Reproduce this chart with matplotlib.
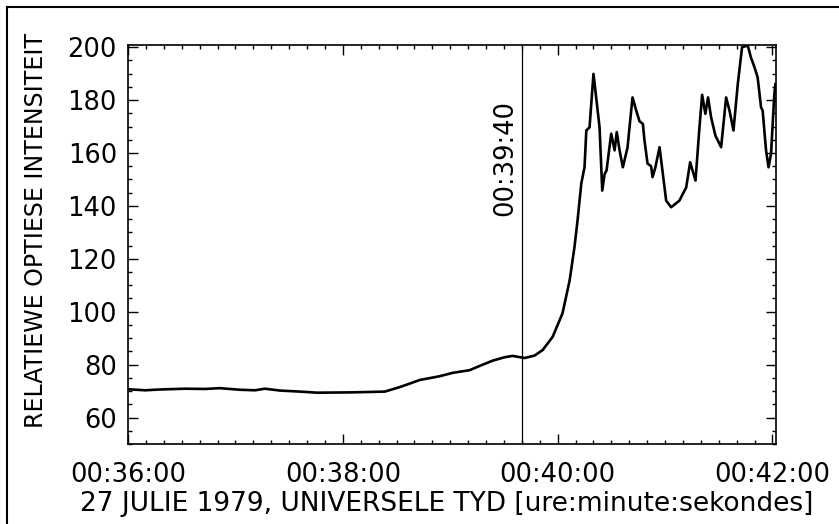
import matplotlib
matplotlib.use("Agg")
import matplotlib.pyplot as plt
from matplotlib.ticker import MultipleLocator, FuncFormatter
from matplotlib.lines import Line2D

# -----------------------------
# data: seconds after 00:36:00 UT, relative optical intensity
# -----------------------------
t_sec = [0, 9.5, 17.9, 31.8, 43, 51.3, 62.5, 70.9, 76.5, 84.8, 96, 105.5,
         107, 124, 143.4, 151.8, 163, 174, 181.4, 190.8, 196.4, 203.7, 210.4,
         214.8, 221.5, 227, 231.6, 237.2, 242.7, 246.7, 249.4, 251.1, 253.2,
         255, 256, 257.8, 260, 261.5, 263.4, 264.9, 266.2, 267.3, 269.9, 271.8,
         273, 274.6, 276.4, 279, 281.8, 283.9, 285.7, 287.6, 288.5, 290.2,
         292.2, 293, 294.6, 296.9, 300.6, 303.4, 308, 311.8, 314, 317, 319.2,
         320.7, 322.5, 324, 325.7, 328.1, 331.3, 334.1, 336, 338.2, 340.6, 343,
         346.2, 348, 349.9, 351.7, 353.6, 354.5, 356.4, 357.8, 359.2, 361, 361.6]
intensity = [70.7, 70.3, 70.6, 70.9, 70.8, 71.1, 70.5, 70.3, 70.9, 70.2, 69.8, 69.4,
             69.4, 69.5, 69.8, 71.5, 74.2, 75.6, 76.9, 77.9, 79.5, 81.5, 82.8,
             83.3, 82.5, 83.4, 85.5, 90.5, 99.4, 111.9, 124.5, 134.5, 148.5,
             154.6, 168.5, 169.7, 189.9, 181, 169.7, 145.8, 152, 153.4, 167.3, 161,
             167.9, 160.9, 154.6, 162, 181, 176, 172, 171, 164.7, 156,
             155, 150.9, 154.6, 162.2, 142, 139.5, 142, 147, 156.5, 149.6, 169.7,
             182, 174.8, 181, 173.5, 166.6, 162.2, 181, 176, 168.5, 186, 200,
             200.6, 196, 192.5, 188.6, 177.3, 176, 161, 154.6, 159.8, 182, 186]

marker_t = 220  # 00:39:40
marker_label = "00:39:40"
y_ticks = [60, 80, 100, 120, 140, 160, 180, 200]

START_MIN = 36


def fmt_time(x, pos):
    total = int(round(x)) + START_MIN * 60
    m, s = divmod(total, 60)
    return f"00:{m:02d}:{s:02d}"


fig = plt.figure(figsize=(8.39, 5.24), dpi=100)
ax = fig.add_axes([0.1526, 0.1527, 0.925 - 0.1526, 0.914 - 0.1527])

ax.plot(t_sec, intensity, color="black", linewidth=1.9)
ax.axvline(marker_t, color="black", linewidth=0.9)
ax.text(marker_t - 2, 158, marker_label, rotation=90, ha="right", va="center",
        fontsize=18.5, family="DejaVu Sans")

ax.set_xlim(0, 362)
ax.set_ylim(50, 200.8)

ax.xaxis.set_major_locator(MultipleLocator(120))
ax.xaxis.set_minor_locator(MultipleLocator(10))
ax.xaxis.set_major_formatter(FuncFormatter(fmt_time))
ax.set_yticks(y_ticks)
ax.yaxis.set_minor_locator(MultipleLocator(5))

ax.tick_params(which="both", direction="in", top=True, right=True,
               labelsize=18.5, width=1.0)
ax.tick_params(which="major", length=7, pad=8)
ax.tick_params(which="minor", length=3)
ax.tick_params(axis="x", which="major", pad=13)
for sp in ax.spines.values():
    sp.set_linewidth(1.2)

ax.set_ylabel("RELATIEWE OPTIESE INTENSITEIT", fontsize=17)
ax.yaxis.set_label_coords(-0.124, 0.536)
ax.set_xlabel("27 JULIE 1979, UNIVERSELE TYD [ure:minute:sekondes]",
              fontsize=19)
ax.xaxis.set_label_coords(0.492, -0.118)

# outer frame (top and left edges of the scanned box)
fig.add_artist(Line2D([0.008, 0.008], [0.0, 0.986], transform=fig.transFigure,
                      color="black", linewidth=1.5))
fig.add_artist(Line2D([0.008, 1.0], [0.986, 0.986], transform=fig.transFigure,
                      color="black", linewidth=1.5))

fig.savefig("out.png", dpi=100)
